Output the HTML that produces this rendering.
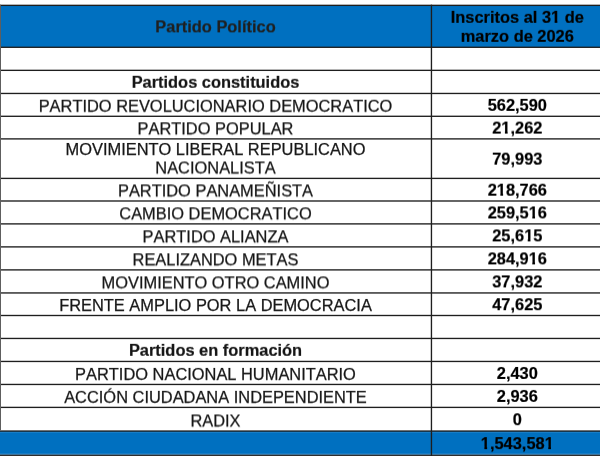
<!DOCTYPE html>
<html><head><meta charset="utf-8"><title>Partidos políticos</title>
<style>
html,body{margin:0;padding:0;background:#fff;}
body{width:600px;height:464px;position:relative;overflow:hidden;font-family:"Liberation Sans",Arial,sans-serif;font-size:16.42px;color:#161616;font-kerning:none;}
.bg{position:absolute;left:0;width:600px;background:#0070c0;}
.t{position:absolute;top:0;will-change:transform;height:19px;line-height:19px;text-align:center;white-space:nowrap;}
.a{left:0.3px;width:431px;-webkit-text-stroke:0.25px #161616;}
.b{left:431.8px;width:170.6px;font-weight:bold;color:#000;-webkit-text-stroke:0.2px #000;}
.bold{font-weight:bold;-webkit-text-stroke:0.2px #161616;margin-left:0;}
.a.hd{-webkit-text-stroke:0.2px #1f1f1f;}
.a.hd{color:#1f1f1f;}
.o{display:inline-block;line-height:19px;clip-path:polygon(0 0,100% 0,100% 12.8px,calc(0.3706em + 0.25px) 12.8px,calc(0.3706em + 0.25px) 100%,calc(0.2334em - 0.25px) 100%,calc(0.2334em - 0.25px) 12.8px,0 12.8px);}
svg{position:absolute;left:0;top:0;}
</style></head><body>
<div class="bg" style="top:5.35px;height:41.95px"></div>
<div class="t a bold hd" style="transform:translateY(17.38px) rotate(0.0001deg)">Partido Político</div>
<div class="t b hd" style="transform:translateY(7.83px) rotate(0.0001deg)">Inscritos al 3<span class="o">1</span> de</div>
<div class="t b hd" style="transform:translateY(26.83px) rotate(0.0001deg)">marzo de 2026</div>
<div class="t a bold" style="transform:translateY(72.80px) rotate(0.0001deg)">Partidos constituidos</div>
<div class="t a" style="transform:translateY(96.75px) rotate(0.0001deg)">PARTIDO REVOLUCIONARIO DEMOCRATICO</div>
<div class="t b" style="transform:translateY(95.88px) rotate(0.0001deg)">562,590</div>
<div class="t a" style="transform:translateY(119.35px) rotate(0.0001deg)">PARTIDO POPULAR</div>
<div class="t b" style="transform:translateY(118.60px) rotate(0.0001deg)">2<span class="o">1</span>,262</div>
<div class="t a" style="transform:translateY(139.95px) rotate(0.0001deg)">MOVIMIENTO LIBERAL REPUBLICANO</div>
<div class="t a" style="transform:translateY(158.50px) rotate(0.0001deg)">NACIONALISTA</div>
<div class="t b" style="transform:translateY(149.65px) rotate(0.0001deg)">79,993</div>
<div class="t a" style="transform:translateY(181.45px) rotate(0.0001deg)">PARTIDO PANAMEÑISTA</div>
<div class="t b" style="transform:translateY(180.70px) rotate(0.0001deg)">2<span class="o">1</span>8,766</div>
<div class="t a" style="transform:translateY(204.35px) rotate(0.0001deg)">CAMBIO DEMOCRATICO</div>
<div class="t b" style="transform:translateY(203.45px) rotate(0.0001deg)">259,5<span class="o">1</span>6</div>
<div class="t a" style="transform:translateY(227.35px) rotate(0.0001deg)">PARTIDO ALIANZA</div>
<div class="t b" style="transform:translateY(226.40px) rotate(0.0001deg)">25,6<span class="o">1</span>5</div>
<div class="t a" style="transform:translateY(250.35px) rotate(0.0001deg)">REALIZANDO METAS</div>
<div class="t b" style="transform:translateY(249.40px) rotate(0.0001deg)">284,9<span class="o">1</span>6</div>
<div class="t a" style="transform:translateY(273.40px) rotate(0.0001deg)">MOVIMIENTO OTRO CAMINO</div>
<div class="t b" style="transform:translateY(272.42px) rotate(0.0001deg)">37,932</div>
<div class="t a" style="transform:translateY(295.95px) rotate(0.0001deg)">FRENTE AMPLIO POR LA DEMOCRACIA</div>
<div class="t b" style="transform:translateY(295.23px) rotate(0.0001deg)">47,625</div>
<div class="t a bold" style="transform:translateY(340.85px) rotate(0.0001deg)">Partidos en formación</div>
<div class="t a" style="transform:translateY(364.90px) rotate(0.0001deg)">PARTIDO NACIONAL HUMANITARIO</div>
<div class="t b" style="transform:translateY(363.95px) rotate(0.0001deg)">2,430</div>
<div class="t a" style="transform:translateY(387.85px) rotate(0.0001deg)">ACCIÓN CIUDADANA INDEPENDIENTE</div>
<div class="t b" style="transform:translateY(386.92px) rotate(0.0001deg)">2,936</div>
<div class="t a" style="transform:translateY(411.50px) rotate(0.0001deg)">RADIX</div>
<div class="t b" style="transform:translateY(410.23px) rotate(0.0001deg)">0</div>
<div class="bg" style="top:431.05px;height:24.20px"></div>
<div class="t b" style="transform:translateY(434.15px) rotate(0.0001deg)"><span class="o">1</span>,543,58<span class="o">1</span></div>
<svg width="600" height="464" viewBox="0 0 600 464">
<rect x="0" y="4.67" width="600" height="1.35" fill="#1e1e1e"/>
<rect x="0" y="46.62" width="600" height="1.35" fill="#1e1e1e"/>
<rect x="0" y="69.67" width="600" height="1.35" fill="#1e1e1e"/>
<rect x="0" y="92.78" width="600" height="1.35" fill="#1e1e1e"/>
<rect x="0" y="115.62" width="600" height="1.35" fill="#1e1e1e"/>
<rect x="0" y="138.22" width="600" height="1.35" fill="#1e1e1e"/>
<rect x="0" y="177.72" width="600" height="1.35" fill="#1e1e1e"/>
<rect x="0" y="200.32" width="600" height="1.35" fill="#1e1e1e"/>
<rect x="0" y="223.22" width="600" height="1.35" fill="#1e1e1e"/>
<rect x="0" y="246.22" width="600" height="1.35" fill="#1e1e1e"/>
<rect x="0" y="269.22" width="600" height="1.35" fill="#1e1e1e"/>
<rect x="0" y="292.27" width="600" height="1.35" fill="#1e1e1e"/>
<rect x="0" y="314.82" width="600" height="1.35" fill="#1e1e1e"/>
<rect x="0" y="337.77" width="600" height="1.35" fill="#1e1e1e"/>
<rect x="0" y="360.77" width="600" height="1.35" fill="#1e1e1e"/>
<rect x="0" y="383.77" width="600" height="1.35" fill="#1e1e1e"/>
<rect x="0" y="406.72" width="600" height="1.35" fill="#1e1e1e"/>
<rect x="0" y="430.38" width="600" height="1.35" fill="#1e1e1e"/>
<rect x="0" y="454.57" width="600" height="1.35" fill="#1e1e1e"/>
<rect x="0" y="4.67" width="1" height="425.70" fill="#5e5e5e"/>
<rect x="0" y="453.75" width="600" height="0.85" fill="#fff" fill-opacity="0.35"/>
<rect x="0" y="431.9" width="600" height="0.9" fill="#fff" fill-opacity="0.12"/>
<rect x="430.77" y="4.67" width="1.35" height="451.25" fill="#1e1e1e"/>
</svg>
</body></html>
